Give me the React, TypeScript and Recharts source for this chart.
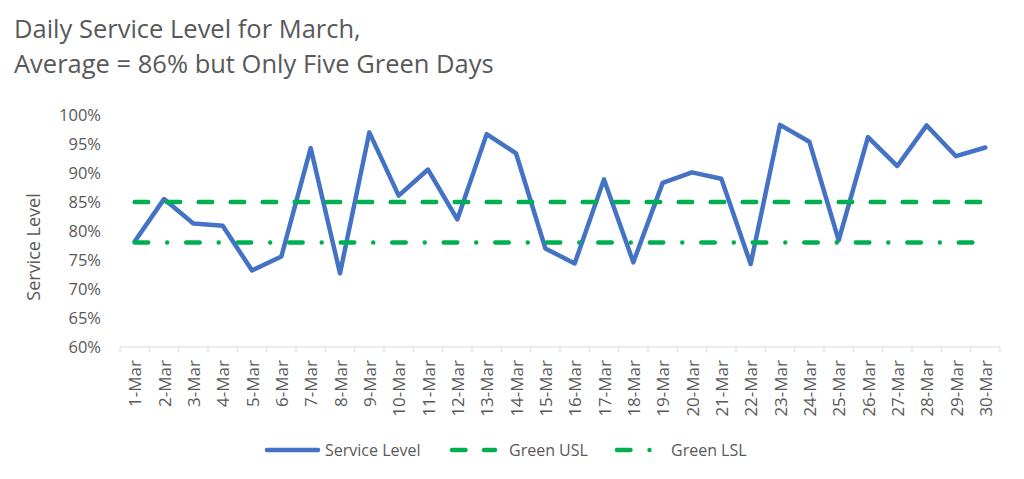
import React from 'react';
import { LineChart, Line, XAxis, YAxis } from 'recharts';

const categories = [
  '1-Mar', '2-Mar', '3-Mar', '4-Mar', '5-Mar', '6-Mar', '7-Mar', '8-Mar', '9-Mar', '10-Mar',
  '11-Mar', '12-Mar', '13-Mar', '14-Mar', '15-Mar', '16-Mar', '17-Mar', '18-Mar', '19-Mar', '20-Mar',
  '21-Mar', '22-Mar', '23-Mar', '24-Mar', '25-Mar', '26-Mar', '27-Mar', '28-Mar', '29-Mar', '30-Mar',
];
const serviceLevel = [
  78.2, 85.5, 81.3, 80.9, 73.2, 75.6, 94.3, 72.7, 97.0, 86.1,
  90.6, 82.0, 96.7, 93.4, 77.0, 74.4, 88.9, 74.6, 88.3, 90.1,
  89.0, 74.3, 98.3, 95.4, 78.4, 96.2, 91.2, 98.2, 92.9, 94.4,
];
const greenUSL = 85;
const greenLSL = 78;
const yTicks = [60, 65, 70, 75, 80, 85, 90, 95, 100];
const titleLines = ['Daily Service Level for March,', 'Average = 86% but Only Five Green Days'];
const yAxisTitle = 'Service Level';
const seriesNames = ['Service Level', 'Green USL', 'Green LSL'];

const data = categories.map((c, i) => ({
  day: c,
  sl: serviceLevel[i],
  usl: greenUSL,
  lsl: greenLSL,
}));

const W = 1024;
const H = 479;
const PLOT_LEFT = 120;
const PLOT_RIGHT = 1000;
const PLOT_TOP = 115;
const PLOT_BOTTOM = 347;
const BAND = (PLOT_RIGHT - PLOT_LEFT) / categories.length;

const FONT = '"Open Sans", sans-serif';
const TEXT = '#595959';
const BLUE = '#4472C4';
const GREEN = '#00B050';
const AXIS = '#D9D9D9';
const USL_DASH = '13.5 18.5';
const LSL_DASH = '13.5 19 0.01 19';

function XTick(props: any) {
  const { x, y, payload, index } = props;
  return (
    <g>
      <line x1={x - BAND / 2} x2={x - BAND / 2} y1={y} y2={y + 5} stroke={AXIS} strokeWidth={1} />
      {index === categories.length - 1 && (
        <line x1={x + BAND / 2} x2={x + BAND / 2} y1={y} y2={y + 5} stroke={AXIS} strokeWidth={1} />
      )}
      <text
        transform={`translate(${x},${y + 13}) rotate(-90)`}
        textAnchor="end"
        dominantBaseline="central"
        fill={TEXT}
        fontSize={17}
        fontFamily={FONT}
      >
        {payload.value}
      </text>
    </g>
  );
}

export default function App() {
  return (
    <div style={{ position: 'absolute', left: 0, top: 0, width: W, height: H, background: '#fff' }}>
      <LineChart
        width={W}
        height={H}
        data={data}
        margin={{ top: PLOT_TOP, right: W - PLOT_RIGHT, bottom: 100, left: PLOT_LEFT - 60 }}
      >
        <XAxis
          dataKey="day"
          interval={0}
          height={H - PLOT_BOTTOM - 100}
          padding={{ left: BAND / 2, right: BAND / 2 }}
          axisLine={{ stroke: AXIS, strokeWidth: 1 }}
          tickLine={false}
          tickSize={0}
          tickMargin={0}
          tick={<XTick />}
        />
        <YAxis
          width={60}
          domain={[60, 100]}
          ticks={yTicks}
          interval={0}
          axisLine={false}
          tickLine={false}
          tickSize={0}
          tickMargin={19}
          tickFormatter={(v: number) => `${v}%`}
          tick={{ fill: TEXT, fontSize: 16.5, fontFamily: FONT }}
        />
        <Line
          dataKey="sl"
          stroke={BLUE}
          strokeWidth={4.5}
          strokeLinejoin="round"
          strokeLinecap="round"
          dot={false}
          activeDot={false}
          isAnimationActive={false}
        />
        <Line
          dataKey="usl"
          stroke={GREEN}
          strokeWidth={4.5}
          strokeDasharray={USL_DASH}
          strokeLinecap="round"
          dot={false}
          activeDot={false}
          isAnimationActive={false}
        />
        <Line
          dataKey="lsl"
          stroke={GREEN}
          strokeWidth={4.5}
          strokeDasharray={LSL_DASH}
          strokeLinecap="round"
          dot={false}
          activeDot={false}
          isAnimationActive={false}
        />
      </LineChart>
      <svg width={W} height={H} style={{ position: 'absolute', left: 0, top: 0, pointerEvents: 'none' }}>
        <text x={14} y={38} fill={TEXT} fontSize={25.5} fontFamily={FONT}>{titleLines[0]}</text>
        <text x={14} y={73} fill={TEXT} fontSize={25.5} fontFamily={FONT}>{titleLines[1]}</text>
        <text
          transform="translate(33,247) rotate(-90)"
          textAnchor="middle"
          dominantBaseline="central"
          fill={TEXT}
          fontSize={18}
          fontFamily={FONT}
        >
          {yAxisTitle}
        </text>
        <line x1={267} x2={318} y1={450} y2={450} stroke={BLUE} strokeWidth={4.5} strokeLinecap="round" />
        <text x={325} y={456} fill={TEXT} fontSize={16} fontFamily={FONT}>{seriesNames[0]}</text>
        <line x1={452} x2={495} y1={450} y2={450} stroke={GREEN} strokeWidth={4.5} strokeDasharray={USL_DASH} strokeLinecap="round" />
        <text x={509} y={456} fill={TEXT} fontSize={16} fontFamily={FONT}>{seriesNames[1]}</text>
        <line x1={617} x2={666} y1={450} y2={450} stroke={GREEN} strokeWidth={4.5} strokeDasharray={LSL_DASH} strokeLinecap="round" />
        <text x={671} y={456} fill={TEXT} fontSize={16} fontFamily={FONT}>{seriesNames[2]}</text>
      </svg>
    </div>
  );
}
